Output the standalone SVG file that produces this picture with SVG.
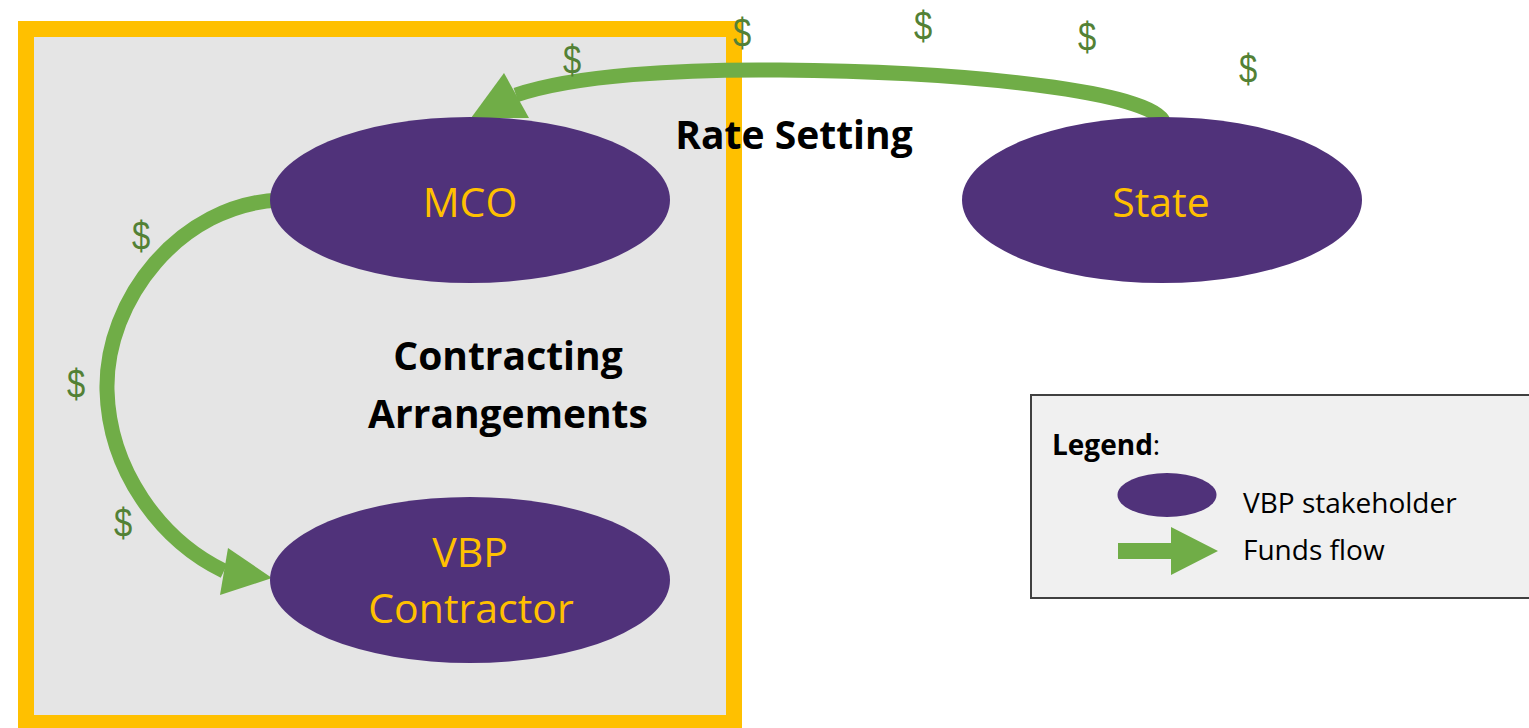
<svg xmlns="http://www.w3.org/2000/svg" width="1529" height="728" viewBox="0 0 1529 728">
  <defs>
    <style>
      .node { fill: #50327A; }
      .node-label { font-family: "Open Sans", "Noto Sans", sans-serif; font-size: 41px; fill: #FFC000; text-anchor: middle; }
      .caption { font-family: "Open Sans", "Noto Sans", sans-serif; font-weight: bold; font-size: 39px; fill: #000; text-anchor: middle; }
      .flow { fill: none; stroke: #70AD47; stroke-width: 15; stroke-linecap: butt; }
      .head { fill: #70AD47; }
      .dollar { font-family: "Liberation Sans", Arial, sans-serif; font-size: 41px; fill: #538135; text-anchor: middle; }
      .legend-text { font-family: "Open Sans", "Noto Sans", sans-serif; font-size: 28px; fill: #000; }
    </style>
  </defs>

  <rect width="1529" height="728" fill="#FFFFFF"/>

  <!-- contracting frame -->
  <g id="contracting-frame">
    <rect x="26" y="29" width="708" height="694" fill="#E5E5E5" stroke="#FFC000" stroke-width="16"/>
  </g>

  <!-- funds-flow connectors -->
  <g id="connectors">
    <!-- State to MCO -->
    <path class="flow" d="M 1164 124 C 1162 96, 1000 72, 780 70 C 680 69, 575 75, 516 95"/>
    <polygon class="head" points="504,73 529,118 471,118"/>
    <!-- MCO to VBP Contractor -->
    <path class="flow" d="M 280 200 C 180 204, 105 300, 107 390 C 109 470, 160 540, 224 571"/>
    <polygon class="head" points="228,548 220,595 272,578"/>
  </g>

  <!-- nodes -->
  <g id="node-mco">
    <ellipse class="node" cx="470" cy="200" rx="200" ry="83"/>
    <text class="node-label" x="470" y="217">MCO</text>
  </g>
  <g id="node-state">
    <ellipse class="node" cx="1162" cy="200" rx="200" ry="83"/>
    <text class="node-label" x="1161" y="217">State</text>
  </g>
  <g id="node-vbp-contractor">
    <ellipse class="node" cx="470" cy="580" rx="200" ry="83"/>
    <text class="node-label" x="470" y="567">VBP</text>
    <text class="node-label" x="471" y="623">Contractor</text>
  </g>

  <!-- captions -->
  <g id="captions">
    <text class="caption" x="794" y="149">Rate Setting</text>
    <text class="caption" x="508" y="370">Contracting</text>
    <text class="caption" x="508" y="428">Arrangements</text>
  </g>

  <!-- dollar markers along the flows (narrowed glyphs) -->
  <g id="dollars">
    <text class="dollar" transform="translate(572,74) scale(0.8,1)">$</text>
    <text class="dollar" transform="translate(742,47) scale(0.8,1)">$</text>
    <text class="dollar" transform="translate(923,40) scale(0.8,1)">$</text>
    <text class="dollar" transform="translate(1087,51) scale(0.8,1)">$</text>
    <text class="dollar" transform="translate(1248,83) scale(0.8,1)">$</text>
    <text class="dollar" transform="translate(141,250) scale(0.8,1)">$</text>
    <text class="dollar" transform="translate(76,398) scale(0.8,1)">$</text>
    <text class="dollar" transform="translate(123,537) scale(0.8,1)">$</text>
  </g>

  <!-- legend -->
  <g id="legend">
    <rect x="1031" y="395" width="520" height="203" fill="#F0F0F0" stroke="#404040" stroke-width="2"/>
    <text class="legend-text" x="1052" y="455"><tspan font-weight="bold">Legend</tspan>:</text>
    <ellipse class="node" cx="1167" cy="495" rx="49.5" ry="22"/>
    <text class="legend-text" x="1243" y="513">VBP stakeholder</text>
    <polygon class="head" points="1118,543 1171,543 1171,527 1218,551 1171,575 1171,559 1118,559"/>
    <text class="legend-text" x="1243" y="560">Funds flow</text>
  </g>
</svg>
